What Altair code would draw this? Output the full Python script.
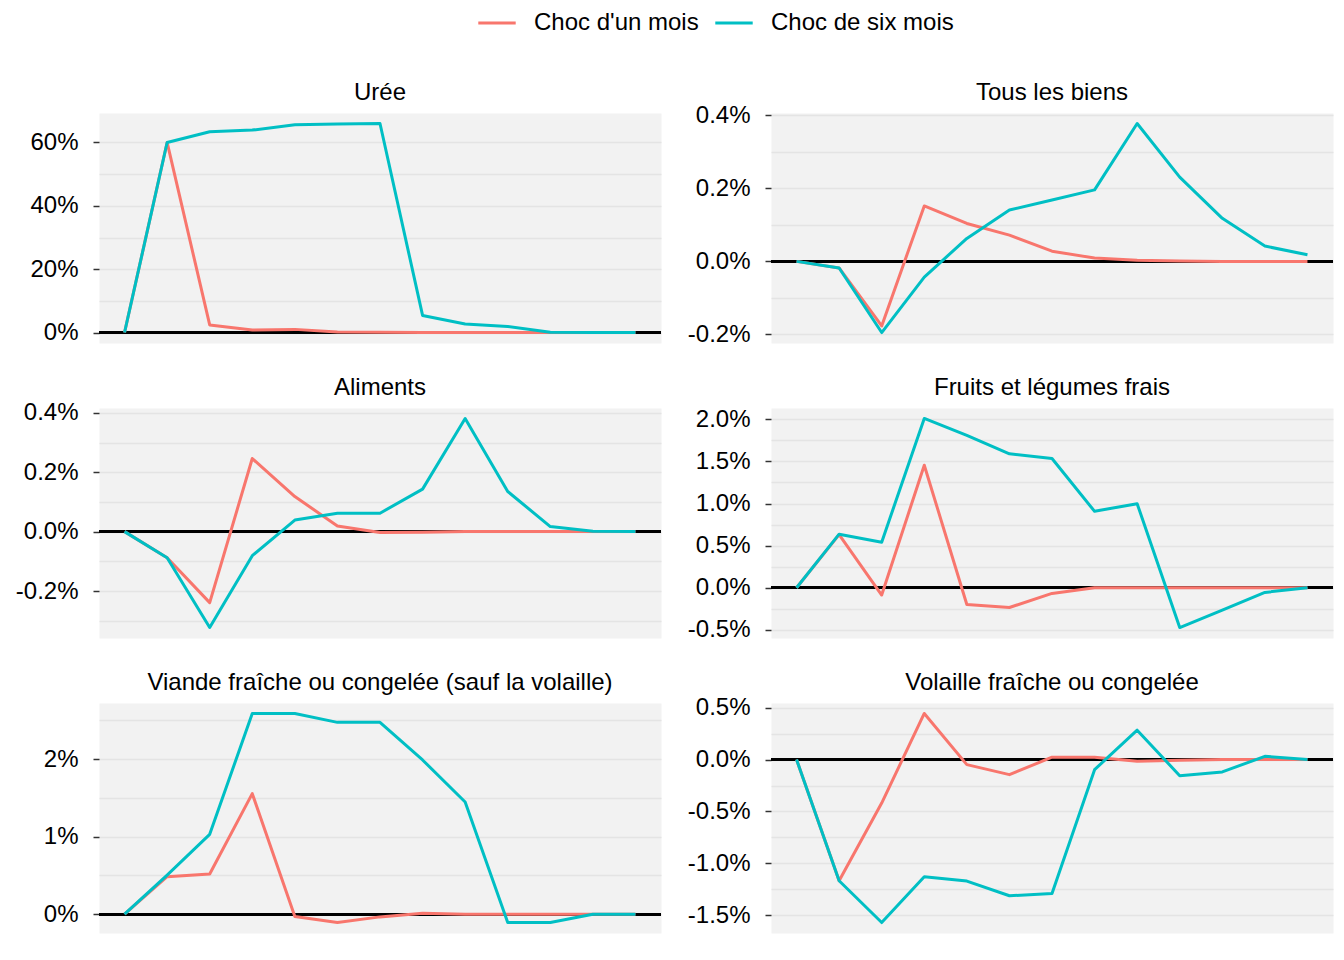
import altair as alt
import pandas as pd

FONT = "Liberation Sans"

x_steps = list(range(13))
series_names = ["Choc d'un mois", "Choc de six mois"]
series_colors = ["#F8766D", "#00BFC4"]

panel_titles = [
    "Urée",
    "Tous les biens",
    "Aliments",
    "Fruits et légumes frais",
    "Viande fraîche ou congelée (sauf la volaille)",
    "Volaille fraîche ou congelée",
]

# values in percent
uree_un = [0, 60.0, 2.4, 0.8, 1.0, 0.2, 0.1, 0.0, 0.0, 0.0, 0.0, 0.0, 0.0]
uree_six = [0, 60.0, 63.4, 63.9, 65.6, 65.8, 66.0, 5.4, 2.7, 1.9, 0.1, 0.0, 0.0]

biens_un = [0, -0.018, -0.177, 0.152, 0.104, 0.072, 0.028, 0.009, 0.003, 0.001, 0.0, 0.0, 0.0]
biens_six = [0, -0.018, -0.195, -0.043, 0.063, 0.141, 0.168, 0.196, 0.378, 0.231, 0.118, 0.042, 0.018]

alim_un = [0, -0.088, -0.239, 0.246, 0.118, 0.019, -0.003, -0.002, 0.0, 0.0, 0.0, 0.0, 0.0]
alim_six = [0, -0.088, -0.323, -0.081, 0.039, 0.062, 0.062, 0.143, 0.381, 0.135, 0.017, 0.001, 0.0]

fruits_un = [0, 0.63, -0.087, 1.455, -0.199, -0.235, -0.068, 0.0, 0.0, 0.0, 0.0, 0.0, 0.0]
fruits_six = [0, 0.636, 0.541, 2.01, 1.81, 1.59, 1.535, 0.907, 0.998, -0.473, -0.266, -0.056, 0.0]

viande_un = [0, 0.484, 0.518, 1.555, -0.03, -0.108, -0.035, 0.013, 0.0, 0.0, 0.0, 0.0, 0.0]
viande_six = [0, 0.505, 1.03, 2.59, 2.59, 2.475, 2.475, 1.99, 1.447, -0.108, -0.108, 0.0, 0.0]

volaille_un = [0, -1.168, -0.419, 0.445, -0.048, -0.145, 0.023, 0.023, -0.016, -0.006, 0.0, 0.0, 0.0]
volaille_six = [0, -1.168, -1.571, -1.129, -1.171, -1.313, -1.29, -0.097, 0.284, -0.155, -0.119, 0.032, 0.0]

uree_major = [0, 20, 40, 60]
uree_minor = [10, 30, 50]
biens_major = [-0.2, 0.0, 0.2, 0.4]
biens_minor = [-0.3, -0.1, 0.1, 0.3]
alim_major = [-0.2, 0.0, 0.2, 0.4]
alim_minor = [-0.3, -0.1, 0.1, 0.3]
fruits_major = [-0.5, 0.0, 0.5, 1.0, 1.5, 2.0]
fruits_minor = [-0.75, -0.25, 0.25, 0.75, 1.25, 1.75, 2.25]
viande_major = [0, 1, 2]
viande_minor = [-0.5, 0.5, 1.5, 2.5]
volaille_major = [-1.5, -1.0, -0.5, 0.0, 0.5]
volaille_minor = [-1.75, -1.25, -0.75, -0.25, 0.25, 0.75]

panels = [
    (panel_titles[0], uree_un, uree_six, uree_major, uree_minor, 0),
    (panel_titles[1], biens_un, biens_six, biens_major, biens_minor, 1),
    (panel_titles[2], alim_un, alim_six, alim_major, alim_minor, 1),
    (panel_titles[3], fruits_un, fruits_six, fruits_major, fruits_minor, 1),
    (panel_titles[4], viande_un, viande_six, viande_major, viande_minor, 0),
    (panel_titles[5], volaille_un, volaille_six, volaille_major, volaille_minor, 1),
]

W, H = 562, 230


def make_panel(title, un, six, majors, minors, decimals):
    n = len(x_steps)
    df = pd.DataFrame({
        "x": x_steps + x_steps,
        "v": un + six,
        "s": [series_names[0]] * n + [series_names[1]] * n,
    })
    allv = un + six + [0]
    lo, hi = min(allv), max(allv)
    r = hi - lo
    dom = [lo - 0.05 * r, hi + 0.05 * r]
    vals = sorted(v for v in majors + minors if dom[0] <= v <= dom[1])
    step = majors[1] - majors[0]
    test = f"abs(datum.value / {step} - round(datum.value / {step})) < 1e-6"
    label_expr = (
        f"({test}) ? replace(format(datum.value, '.{decimals}f'), '\u2212', '-') + '%' : ''"
    )
    axis = alt.Axis(
        values=vals,
        tickCount=100,
        labelExpr=label_expr,
        labelOverlap=False,
        title=None,
        domain=False,
        grid=True,
        gridColor="#E4E4E4",
        gridWidth=1.5,
        ticks=True,
        tickSize=6,
        tickWidth=1.5,
        tickColor="#333333",
        tickOpacity=alt.condition(test, alt.value(1), alt.value(0)),
        labelFont=FONT,
        labelFontSize=24,
        labelColor="black",
        labelPadding=15,
    )
    xscale = alt.Scale(domain=[-0.6, 12.6], nice=False, zero=False)
    yscale = alt.Scale(domain=dom, nice=False, zero=False)

    zero = alt.Chart(df).mark_rule(color="black", strokeWidth=2).encode(
        y=alt.datum(0)
    )
    lines = alt.Chart(df).mark_line(strokeWidth=3, strokeJoin="round").encode(
        x=alt.X("x:Q", scale=xscale, axis=None),
        y=alt.Y("v:Q", scale=yscale, axis=axis),
        color=alt.Color(
            "s:N",
            scale=alt.Scale(domain=series_names, range=series_colors),
            legend=alt.Legend(title=None),
        ),
        order=alt.Order("x:Q"),
    )
    head = alt.Chart(pd.DataFrame({"t": [title]})).mark_text(
        font=FONT, fontSize=24, color="black", align="center", baseline="alphabetic"
    ).encode(
        text="t:N",
        x=alt.value(W / 2),
        y=alt.value(-13),
    )
    return alt.layer(zero, lines, head).properties(width=W, height=H)


charts = [make_panel(*p) for p in panels]

chart = alt.concat(
    *charts, columns=2, spacing={"row": 65, "column": 110}, bounds="flush"
).properties(
    padding={"left": 7, "top": 3, "right": 0, "bottom": 5}
).configure_view(
    fill="#F2F2F2", strokeOpacity=0
).configure_legend(
    orient="none",
    legendX=386,
    legendY=-102,
    direction="horizontal",
    symbolType="M-2,0H2",
    symbolStrokeWidth=3,
    symbolSize=350,
    labelFont=FONT,
    labelFontSize=24,
    labelColor="black",
    labelOffset=25,
    columnPadding=10,
    labelLimit=400,
)

chart.save("out.html", embed_options={"renderer": "svg", "actions": False})
